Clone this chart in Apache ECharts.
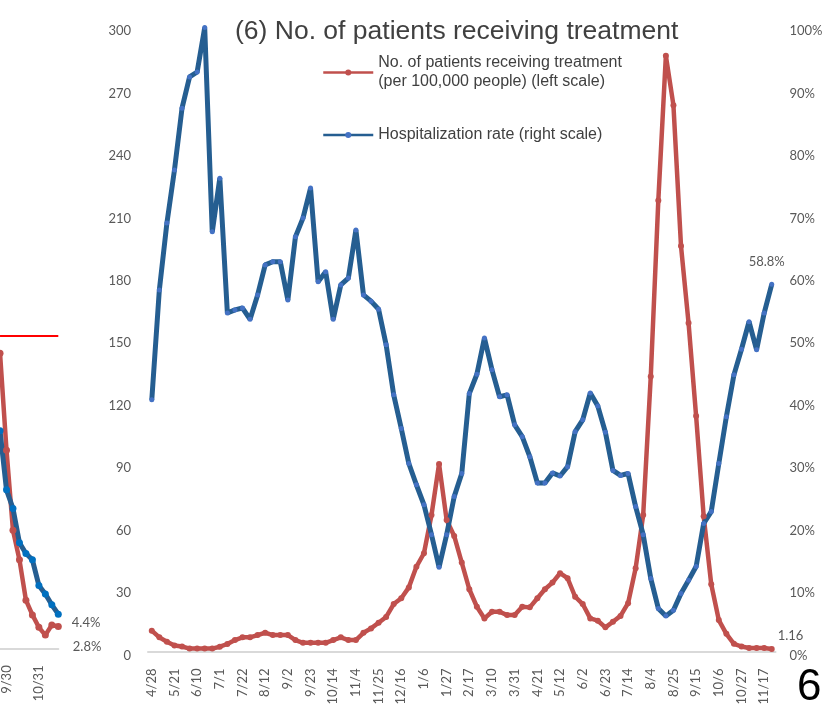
<!DOCTYPE html>
<html>
<head>
<meta charset="utf-8">
<script src="https://cdn.jsdelivr.net/npm/echarts@6/dist/echarts.min.js"></script>
<style>
  html, body { margin: 0; padding: 0; background: #fff; }
  #chart { width: 833px; height: 720px; }
</style>
</head>
<body>
<div id="chart"></div>
<script>
// weekly dates, a label shows on every third one
const weeks = [
  '4/28', '5/7', '5/14', '5/21', '5/27', '6/3', '6/10', '6/17', '6/24', '7/1',
  '7/8', '7/15', '7/22', '7/29', '8/5', '8/12', '8/19', '8/26', '9/2', '9/9',
  '9/16', '9/23', '9/30', '10/7', '10/14', '10/21', '10/28', '11/4', '11/11', '11/18',
  '11/25', '12/2', '12/9', '12/16', '12/23', '12/30', '1/6', '1/13', '1/20', '1/27',
  '2/3', '2/10', '2/17', '2/24', '3/3', '3/10', '3/17', '3/24', '3/31', '4/7',
  '4/14', '4/21', '4/28', '5/5', '5/12', '5/19', '5/26', '6/2', '6/9', '6/16',
  '6/23', '6/30', '7/7', '7/14', '7/21', '7/28', '8/4', '8/11', '8/18', '8/25',
  '9/1', '9/8', '9/15', '9/22', '9/29', '10/6', '10/13', '10/20', '10/27', '11/3',
  '11/10', '11/17', '11/24',
]
// patients receiving treatment per 100,000 people (left scale)
const patients = [
  10.0, 6.8, 4.7, 2.9, 2.4, 1.4, 1.4, 1.4, 1.4, 2.3,
  3.6, 5.5, 6.8, 6.8, 7.9, 9.0, 7.9, 7.9, 7.9, 5.5,
  4.2, 4.2, 4.2, 4.2, 5.5, 6.8, 5.5, 5.5, 9.0, 11.1,
  13.8, 16.6, 22.8, 25.6, 30.8, 40.7, 47.2, 65.6, 90.1, 63.2,
  55.5, 42.7, 29.9, 21.5, 15.9, 19.1, 19.1, 17.5, 17.5, 21.5,
  21.2, 25.6, 29.9, 33.1, 37.6, 35.2, 26.3, 22.8, 15.9, 14.8,
  11.6, 14.3, 17.1, 23.2, 40.0, 65.6, 132.1, 216.7, 286.2, 262.4,
  194.8, 157.8, 113.1, 65.0, 32.3, 15.1, 8.5, 3.7, 2.4, 1.7,
  1.7, 1.7, 1.16,
]
// hospitalization rate, % (right scale)
const hospRate = [
  40.3, 57.9, 68.6, 77.1, 87.0, 92.0, 92.8, 99.9, 67.2, 75.8,
  54.2, 54.7, 55.0, 53.2, 57.1, 61.9, 62.4, 62.4, 56.3, 66.4,
  69.4, 74.2, 59.2, 60.8, 53.2, 58.7, 59.8, 67.5, 57.1, 56.1,
  54.8, 49.1, 41.1, 35.7, 30.1, 26.7, 23.5, 18.7, 13.5, 18.7,
  24.8, 28.5, 41.3, 44.4, 50.2, 45.1, 40.8, 41.1, 36.3, 34.4,
  31.2, 27.0, 27.0, 28.6, 28.1, 29.6, 35.2, 37.1, 41.4, 39.3,
  35.1, 29.0, 28.2, 28.5, 23.2, 18.7, 11.7, 6.9, 5.7, 6.6,
  9.3, 11.4, 13.6, 20.5, 22.4, 30.1, 37.6, 44.3, 48.4, 52.8,
  48.3, 54.2, 58.8,
]

// tail of the neighbouring chart (5), cut by the left edge
const fragWeeks = ['9/23', '9/30', '10/7', '10/14', '10/17', '10/24', '10/31', '11/7', '11/14', '11/21']
const fragTicks = ['9/30', '10/31']
const fragPatients = [38.0, 25.5, 15.2, 11.4, 6.2, 4.3, 2.7, 1.7, 3.0, 2.8]
const fragRate = [28.0, 20.4, 18.0, 13.6, 12.2, 11.4, 8.1, 7.0, 5.6, 4.4]
const fragThreshold = 40.3

const leftTicks = { min: 0, max: 300, interval: 30 }
const rightTicks = { min: 0, max: 100, interval: 10 }

const redName = 'No. of patients receiving treatment'
const blueName = 'Hospitalization rate (right scale)'

const grey = '#595959'
const axisFont = { color: grey, fontSize: 13, fontFamily: 'Lato' }
const red = '#c0504d'
const blue = '#255e91'

const chart = echarts.init(document.getElementById('chart'))
const lastMain = weeks.length - 1
const lastFrag = fragWeeks.length - 1

const option = {
  backgroundColor: '#fff',
  animation: false,
  title: {
    text: '(6) No. of patients receiving treatment',
    left: 230,
    top: 13,
    textStyle: { color: '#404040', fontSize: 26.5, fontWeight: 'normal', fontFamily: 'Liberation Sans' },
  },
  legend: [
    {
      data: [redName],
      orient: 'vertical',
      left: 322,
      top: 44,
      padding: 0,
      itemWidth: 50,
      itemHeight: 7.5,
      lineStyle: { width: 2.5 },
      formatter: () => 'No. of patients receiving treatment\n(per 100,000 people) (left scale)',
      textStyle: {
        color: '#404040', fontSize: 16, fontFamily: 'Liberation Sans',
        lineHeight: 19, padding: [19, 0, 0, 0],
      },
    },
    {
      data: [blueName],
      orient: 'vertical',
      left: 322,
      top: 125.5,
      padding: 0,
      itemWidth: 50,
      itemHeight: 7.5,
      lineStyle: { width: 2.5 },
      textStyle: { color: '#404040', fontSize: 16, fontFamily: 'Liberation Sans', lineHeight: 19 },
    },
  ],
  graphic: [
    {
      type: 'text',
      left: 797,
      top: 666,
      style: { text: '6', fill: '#000', font: '44px Liberation Sans' },
    },
  ],
  grid: [
    { left: 148, right: 57.5, top: 27, bottom: 68.5 },
    { left: -5.6, width: 63.9, top: 27, bottom: 71.7 },
  ],
  xAxis: [
    {
      type: 'category',
      gridIndex: 0,
      data: weeks,
      boundaryGap: true,
      axisTick: { show: false },
      axisLine: { lineStyle: { color: '#d9d9d9', width: 2 } },
      axisLabel: { ...axisFont, rotate: 90, interval: 2, margin: 17 },
    },
    {
      type: 'category',
      gridIndex: 1,
      data: fragWeeks,
      boundaryGap: false,
      axisTick: { show: false },
      axisLine: { lineStyle: { color: '#d9d9d9', width: 2 } },
      axisLabel: { ...axisFont, rotate: 90, margin: 17, interval: (i, v) => fragTicks.includes(v) },
    },
  ],
  yAxis: [
    {
      type: 'value',
      gridIndex: 0,
      ...leftTicks,
      axisLine: { show: false },
      axisTick: { show: false },
      splitLine: { show: false },
      axisLabel: { ...axisFont, margin: 17, verticalAlign: 'top', lineHeight: 8 },
    },
    {
      type: 'value',
      gridIndex: 0,
      position: 'right',
      ...rightTicks,
      axisLine: { show: false },
      axisTick: { show: false },
      splitLine: { show: false },
      axisLabel: { ...axisFont, margin: 14, verticalAlign: 'top', lineHeight: 8, formatter: '{value}%' },
    },
    { type: 'value', gridIndex: 1, min: 0, max: 80, show: false },
  ],
  series: [
    {
      name: redName,
      type: 'line',
      xAxisIndex: 0,
      yAxisIndex: 0,
      data: patients,
      symbol: 'circle',
      symbolSize: 6,
      showAllSymbol: true,
      lineStyle: { color: red, width: 4.5 },
      itemStyle: { color: red },
      label: {
        show: true,
        position: 'right',
        distance: 3,
        offset: [0, -13],
        ...axisFont,
        formatter: p => (p.dataIndex === lastMain ? String(p.value) : ''),
      },
    },
    {
      name: blueName,
      type: 'line',
      xAxisIndex: 0,
      yAxisIndex: 1,
      data: hospRate,
      symbol: 'circle',
      symbolSize: 5,
      showAllSymbol: true,
      lineStyle: { color: blue, width: 5 },
      itemStyle: { color: '#4472c4' },
      label: {
        show: true,
        position: 'top',
        distance: 13,
        offset: [-5, 0],
        ...axisFont,
        formatter: p => (p.dataIndex === lastMain ? p.value.toFixed(1) + '%' : ''),
      },
    },
    {
      name: 'frag-patients',
      type: 'line',
      xAxisIndex: 1,
      yAxisIndex: 2,
      data: fragPatients,
      clip: false,
      symbol: 'circle',
      symbolSize: 7,
      showAllSymbol: true,
      lineStyle: { color: red, width: 4.5 },
      itemStyle: { color: red },
      label: {
        show: true,
        position: 'right',
        distance: 11,
        offset: [0, 20],
        ...axisFont,
        formatter: p => (p.dataIndex === lastFrag ? p.value + '%' : ''),
      },
      markLine: {
        silent: true,
        symbol: 'none',
        label: { show: false },
        lineStyle: { color: '#ff0000', width: 2, type: 'solid' },
        data: [{ yAxis: fragThreshold }],
      },
    },
    {
      name: 'frag-rate',
      type: 'line',
      xAxisIndex: 1,
      yAxisIndex: 2,
      data: fragRate,
      clip: false,
      symbol: 'circle',
      symbolSize: 7,
      showAllSymbol: true,
      lineStyle: { color: blue, width: 5 },
      itemStyle: { color: '#0070c0' },
      label: {
        show: true,
        position: 'right',
        distance: 10,
        offset: [0, 9],
        ...axisFont,
        formatter: p => (p.dataIndex === lastFrag ? p.value + '%' : ''),
      },
    },
  ],
}
chart.setOption(option)
</script>
</body>
</html>
